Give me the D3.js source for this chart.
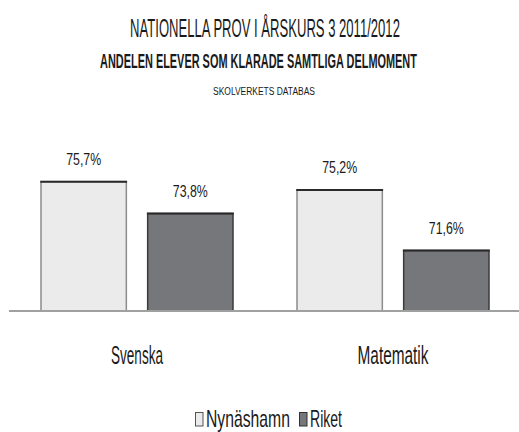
<!DOCTYPE html>
<html>
<head>
<meta charset="utf-8">
<script src="https://cdn.jsdelivr.net/npm/d3@7"></script>
<style>
  html, body { margin: 0; padding: 0; background: #fff; }
  svg { display: block; }
  text { font-family: "Liberation Sans Narrow", "Liberation Sans", "DejaVu Sans Condensed", sans-serif; fill: #1a1a1a; }
</style>
</head>
<body>
<svg id="chart" width="519" height="432"></svg>
<script>
const categories = ["Svenska", "Matematik"];
const seriesNames = ["Nynäshamn", "Riket"];
const nynashamnValues = [75.7, 75.2];
const riketValues = [73.8, 71.6];
const titleLines = [
  "NATIONELLA PROV I ÅRSKURS 3 2011/2012",
  "ANDELEN ELEVER SOM KLARADE SAMTLIGA DELMOMENT",
  "SKOLVERKETS DATABAS"
];

const seriesColors = ["#ebebeb", "#76777b"];
const seriesStroke = ["#8c8c8c", "#3a3a3a"];

const svg = d3.select("#chart");

// Condense a text horizontally to a target width, anchored at (x, y)
function condense(sel, anchor) {
  sel.each(function () {
    const t = d3.select(this);
    const target = +t.attr("data-w");
    const x = +t.attr("data-x");
    const yy = +t.attr("data-y");
    t.attr("x", 0).attr("y", 0).attr("text-anchor", anchor);
    const w = this.getComputedTextLength();
    const k = w > 0 ? target / w : 1;
    t.attr("transform", `translate(${x},${yy}) scale(${k},1)`);
  });
}

const x0 = d3.scaleBand().domain(categories).range([9, 521]).paddingInner(0.25).paddingOuter(0.125);
const x1 = d3.scaleBand().domain(seriesNames).range([0, x0.bandwidth()]).paddingInner(0.2);
const y = d3.scaleLinear().domain([68, 78]).range([311, 143]);

// Titles
const titleSpecs = [
  { y: 37, size: 25, weight: "normal", len: 270, cx: 265 },
  { y: 68, size: 19.5, weight: "bold", len: 317, cx: 258.5 },
  { y: 95, size: 11.5, weight: "normal", len: 102, cx: 264 }
];
svg.selectAll("text.title").data(titleLines).join("text")
  .attr("class", "title")
  .attr("data-x", (d, i) => titleSpecs[i].cx)
  .attr("data-y", (d, i) => titleSpecs[i].y)
  .attr("data-w", (d, i) => titleSpecs[i].len)
  .attr("font-size", (d, i) => titleSpecs[i].size)
  .attr("font-weight", (d, i) => titleSpecs[i].weight)
  .text(d => d)
  .call(condense, "middle");

const data = categories.map((c, i) => ({
  category: c,
  values: [
    { series: seriesNames[0], value: nynashamnValues[i], s: 0 },
    { series: seriesNames[1], value: riketValues[i], s: 1 }
  ]
}));

const groups = svg.selectAll("g.group").data(data).join("g")
  .attr("class", "group")
  .attr("transform", d => `translate(${x0(d.category)},0)`);

groups.selectAll("rect").data(d => d.values).join("rect")
  .attr("x", d => x1(d.series))
  .attr("y", d => y(d.value))
  .attr("width", x1.bandwidth())
  .attr("height", d => y.range()[0] - y(d.value))
  .attr("fill", d => seriesColors[d.s])
  .attr("stroke", d => seriesStroke[d.s])
  .attr("stroke-width", 1.5);

groups.selectAll("line.top").data(d => d.values).join("line")
  .attr("class", "top")
  .attr("x1", d => x1(d.series) - 0.75)
  .attr("x2", d => x1(d.series) + x1.bandwidth() + 0.75)
  .attr("y1", d => y(d.value))
  .attr("y2", d => y(d.value))
  .attr("stroke", "#2a2a2a")
  .attr("stroke-width", 2);

groups.selectAll("text.val").data(d => d.values).join("text")
  .attr("class", "val")
  .attr("data-x", d => x1(d.series) + x1.bandwidth() / 2)
  .attr("data-y", d => y(d.value) - 17)
  .attr("data-w", 35)
  .attr("font-size", 17)
  .text(d => d.value.toFixed(1).replace(".", ",") + "%")
  .call(condense, "middle");

// Baseline
svg.append("line")
  .attr("x1", x0.range()[0]).attr("x2", 519)
  .attr("y1", y.range()[0]).attr("y2", y.range()[0])
  .attr("stroke", "#a0a0a0").attr("stroke-width", 2);

// Category labels
const catLen = [52, 71];
svg.selectAll("text.cat").data(categories).join("text")
  .attr("class", "cat")
  .attr("data-x", d => x0(d) + x0.bandwidth() / 2)
  .attr("data-y", 364)
  .attr("data-w", (d, i) => catLen[i])
  .attr("font-size", 25)
  .text(d => d)
  .call(condense, "middle");

// Legend
const legX = [195, 299];
const legLen = [84, 32];
const leg = svg.selectAll("g.leg").data(seriesNames).join("g")
  .attr("class", "leg")
  .attr("transform", (d, i) => `translate(${legX[i]},0)`);
leg.append("rect")
  .attr("x", 0.5).attr("y", 412.5).attr("width", 7.5).attr("height", 13.5)
  .attr("fill", (d, i) => seriesColors[i])
  .attr("stroke", (d, i) => i === 0 ? "#555" : "#333")
  .attr("stroke-width", 1);
leg.append("text")
  .attr("data-x", 11).attr("data-y", 427)
  .attr("data-w", (d, i) => legLen[i])
  .attr("font-size", 23)
  .text(d => d)
  .call(condense, "start");
</script>
</body>
</html>
